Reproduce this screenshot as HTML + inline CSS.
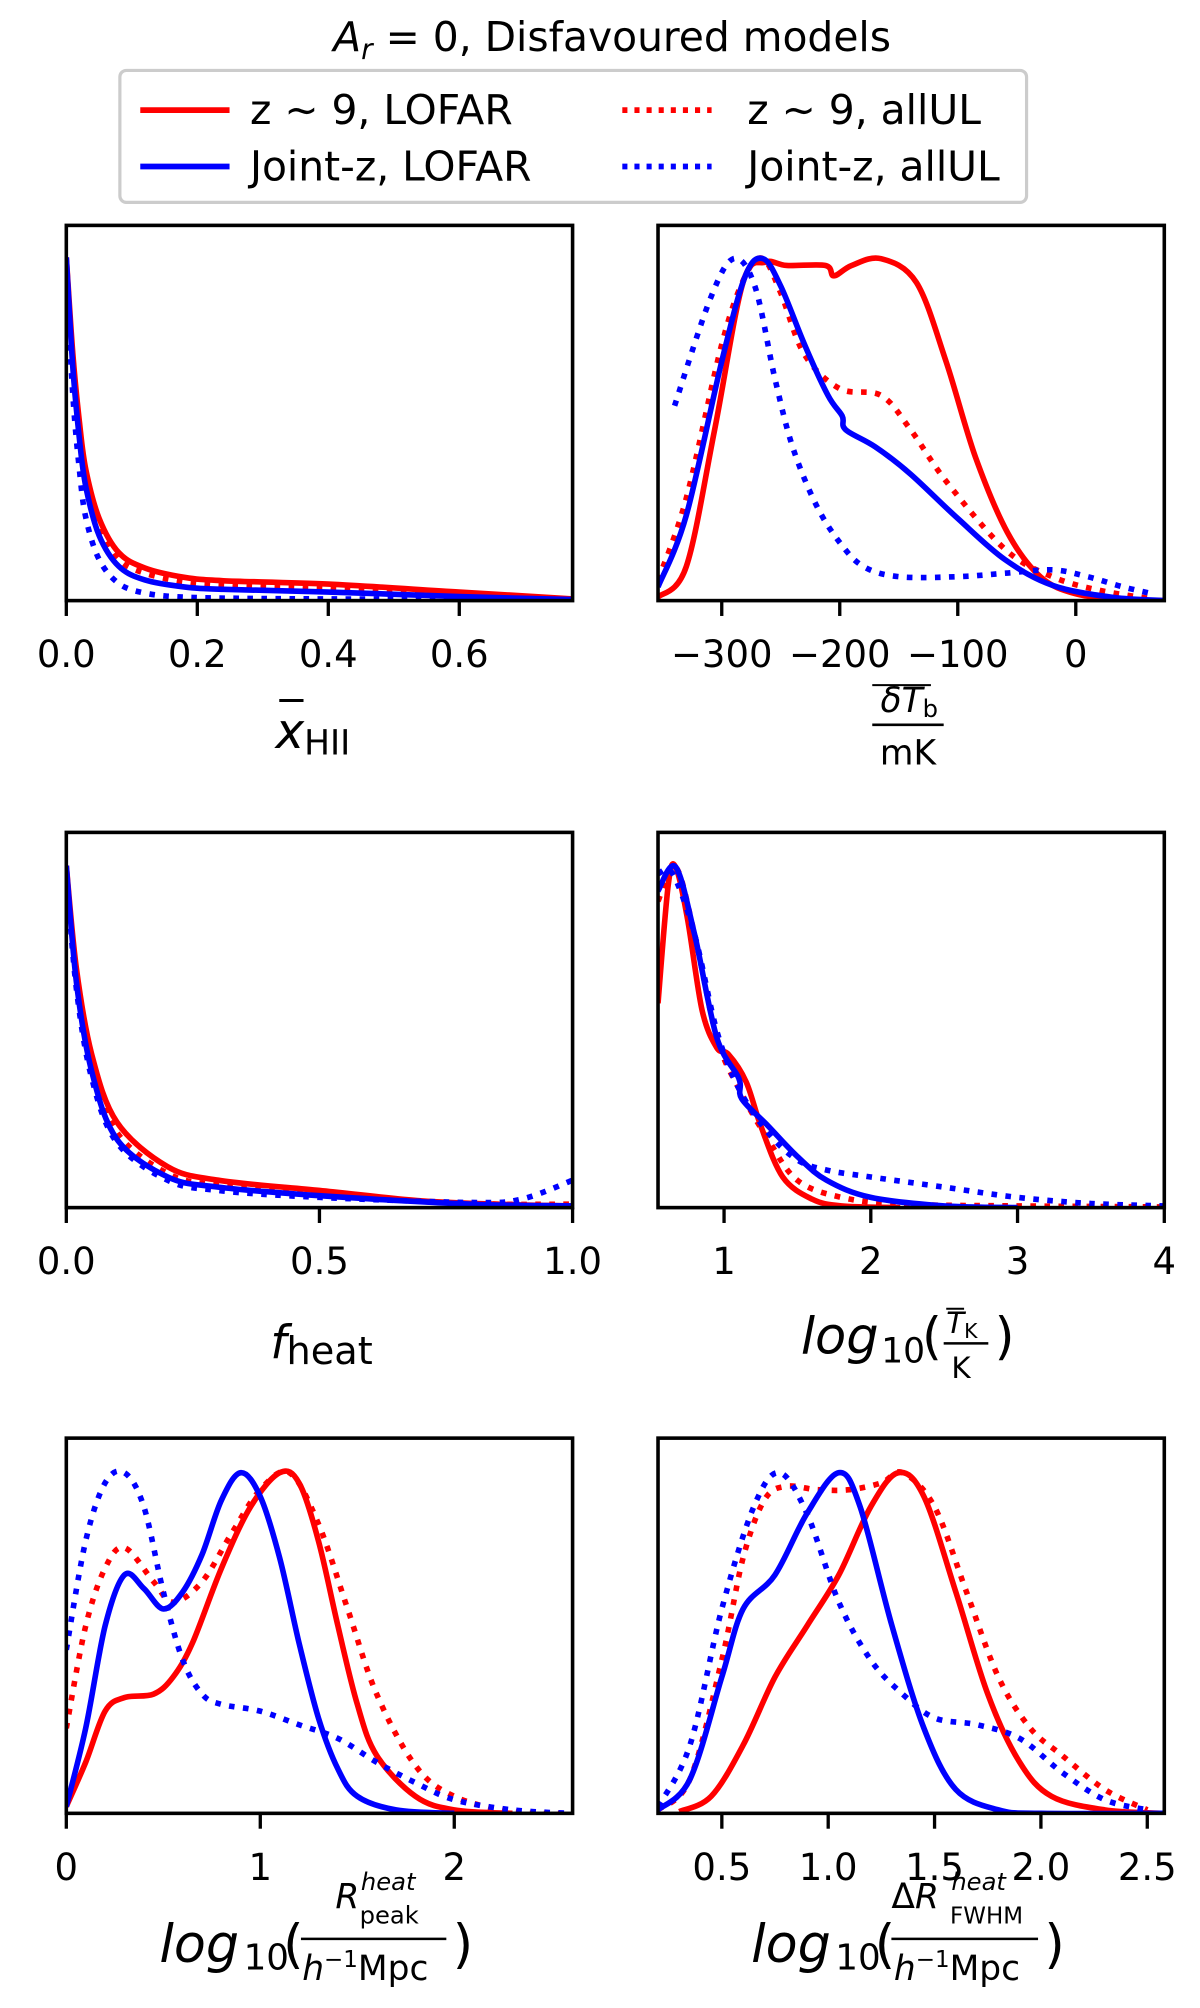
<!DOCTYPE html>
<html><head><meta charset="utf-8"><style>
html,body{margin:0;padding:0;background:#fff}
svg{display:block}
text{font-family:"DejaVu Sans","Liberation Sans",sans-serif;fill:#000}
</style></head><body>
<svg id="fig" width="1200" height="2008" viewBox="0 0 941 1568" preserveAspectRatio="none" xmlns="http://www.w3.org/2000/svg">
<text x="480" y="40" font-size="32" text-anchor="middle"><tspan font-style="italic">A</tspan><tspan font-style="italic" font-size="22" dy="6">r</tspan><tspan dy="-6"> = 0, Disfavoured models</tspan></text>
<g>
<rect x="94" y="55" width="711" height="103" rx="5" fill="#fff" stroke="#ccc" stroke-width="2.5"/>
<line x1="110" y1="86" x2="180" y2="86" stroke="#f00" stroke-width="4.5"/>
<text x="196" y="97" font-size="32">z ∼ 9, LOFAR</text>
<line x1="110" y1="130" x2="180" y2="130" stroke="#00f" stroke-width="4.5"/>
<text x="196" y="141" font-size="32">Joint-z, LOFAR</text>
<line x1="488" y1="86" x2="558" y2="86" stroke="#f00" stroke-width="4.5" stroke-dasharray="4,5.5"/>
<text x="586" y="97" font-size="32">z ∼ 9, allUL</text>
<line x1="488" y1="130" x2="558" y2="130" stroke="#00f" stroke-width="4.5" stroke-dasharray="4,5.5"/>
<text x="586" y="141" font-size="32">Joint-z, allUL</text>
</g>
<g id="panels"></g>
<text x="216" y="584" font-size="38"><tspan font-style="italic">x</tspan><tspan font-size="27" dy="5">HII</tspan></text>
<line x1="219" y1="547" x2="238" y2="547" stroke="#000" stroke-width="2.4"/>
<g>
<text x="713" y="556" font-size="27" text-anchor="middle"><tspan font-style="italic">δT</tspan><tspan font-size="19" dy="4">b</tspan></text>
<line x1="684" y1="535" x2="730" y2="535" stroke="#000" stroke-width="1.6"/>
<line x1="684" y1="566" x2="740" y2="566" stroke="#000" stroke-width="2"/>
<text x="712" y="597" font-size="27" text-anchor="middle">mK</text>
</g>
<text x="212" y="1061" font-size="36"><tspan font-style="italic">f</tspan><tspan font-size="30" dy="4">heat</tspan></text>
<g>
<text x="628" y="1057" font-size="40" font-style="italic">log</text>
<text x="691" y="1064" font-size="27">10</text>
<text x="723" y="1057" font-size="40">(</text>
<text x="742" y="1041" font-size="23" font-style="italic">T</text><text x="756" y="1045" font-size="16">K</text>
<line x1="742" y1="1022" x2="756" y2="1022" stroke="#000" stroke-width="1.6"/>
<line x1="740" y1="1049" x2="775" y2="1049" stroke="#000" stroke-width="2"/>
<text x="746" y="1076" font-size="23">K</text>
<text x="780" y="1057" font-size="40">)</text>
</g>
<g>
<text x="125" y="1532" font-size="41" font-style="italic">log</text>
<text x="191" y="1538" font-size="28">10</text>
<text x="222" y="1532" font-size="41">(</text>
<text x="263" y="1490" font-size="27" font-style="italic">R</text>
<text x="283" y="1476" font-size="19" font-style="italic">heat</text>
<text x="282" y="1502" font-size="19">peak</text>
<line x1="236" y1="1514" x2="350" y2="1514" stroke="#000" stroke-width="2"/>
<text x="237" y="1546" font-size="27"><tspan font-style="italic">h</tspan><tspan font-size="18" dy="-10">−1</tspan><tspan dy="10">Mpc</tspan></text>
<text x="355" y="1532" font-size="41">)</text>
</g>
<g>
<text x="589" y="1532" font-size="41" font-style="italic">log</text>
<text x="655" y="1538" font-size="28">10</text>
<text x="686" y="1532" font-size="41">(</text>
<text x="699" y="1490" font-size="27"><tspan>Δ</tspan><tspan font-style="italic">R</tspan></text>
<text x="746" y="1476" font-size="19" font-style="italic">heat</text>
<text x="745" y="1502" font-size="18">FWHM</text>
<line x1="699" y1="1514" x2="814" y2="1514" stroke="#000" stroke-width="2"/>
<text x="701" y="1546" font-size="27"><tspan font-style="italic">h</tspan><tspan font-size="18" dy="-10">−1</tspan><tspan dy="10">Mpc</tspan></text>
<text x="819" y="1532" font-size="41">)</text>
</g>
</svg>
<script>
// ---- data (x, density normalised to peak=1) ----
const p1_redSolid=[[0,1],[0.01,0.72],[0.02,0.52],[0.03,0.38],[0.05,0.24],[0.08,0.14],[0.12,0.095],[0.18,0.068],[0.24,0.058],[0.4,0.048],[0.6,0.025],[0.773,0.005]];
const p1_redDot=[[0,0.98],[0.01,0.7],[0.02,0.5],[0.03,0.36],[0.05,0.22],[0.08,0.12],[0.12,0.08],[0.18,0.055],[0.24,0.045],[0.4,0.035],[0.6,0.018],[0.773,0.004]];
const p1_blueSolid=[[0,1],[0.01,0.68],[0.02,0.47],[0.03,0.33],[0.05,0.19],[0.08,0.1],[0.12,0.06],[0.18,0.04],[0.24,0.033],[0.4,0.025],[0.6,0.012],[0.773,0.003]];
const p1_blueDot=[[0,0.95],[0.01,0.6],[0.02,0.38],[0.03,0.24],[0.05,0.12],[0.08,0.05],[0.12,0.022],[0.18,0.01],[0.3,0.006],[0.5,0.004],[0.773,0.002]];
const p2_redSolid=[[-354,0.01],[-330,0.1],[-306,0.5],[-282,0.93],[-263,0.99],[-245,0.98],[-212,0.98],[-205,0.95],[-190,0.98],[-165,1.0],[-135,0.93],[-110,0.7],[-85,0.42],[-58,0.2],[-30,0.07],[0,0.02],[40,0.003],[75,0]];
const p2_redDot=[[-354,0.06],[-330,0.3],[-300,0.75],[-280,0.95],[-265,1.0],[-250,0.9],[-230,0.72],[-200,0.62],[-165,0.6],[-140,0.5],[-110,0.35],[-60,0.15],[-20,0.07],[20,0.03],[65,0.005]];
const p2_blueSolid=[[-354,0.04],[-330,0.25],[-300,0.7],[-280,0.95],[-265,1.0],[-250,0.92],[-230,0.75],[-210,0.6],[-198,0.54],[-195,0.5],[-170,0.45],[-140,0.37],[-100,0.24],[-60,0.12],[-20,0.045],[30,0.01],[75,0]];
const p2_blueDot=[[-340,0.57],[-310,0.88],[-290,1.0],[-272,0.92],[-255,0.65],[-240,0.45],[-220,0.28],[-200,0.17],[-180,0.1],[-150,0.07],[-100,0.07],[-60,0.08],[-20,0.09],[10,0.07],[40,0.04],[65,0.02]];
const p3_redSolid=[[0,1],[0.02,0.7],[0.05,0.45],[0.1,0.25],[0.2,0.12],[0.3,0.08],[0.5,0.05],[0.7,0.02],[0.85,0.01],[1,0.005]];
const p3_redDot=[[0,0.98],[0.02,0.68],[0.05,0.42],[0.1,0.22],[0.2,0.1],[0.3,0.065],[0.5,0.04],[0.7,0.018],[0.85,0.01],[1,0.01]];
const p3_blueSolid=[[0,1],[0.02,0.66],[0.05,0.4],[0.1,0.2],[0.2,0.09],[0.3,0.06],[0.5,0.035],[0.8,0.01],[1,0.005]];
const p3_blueDot=[[0,0.98],[0.02,0.64],[0.05,0.38],[0.1,0.19],[0.2,0.08],[0.3,0.05],[0.5,0.03],[0.8,0.015],[0.9,0.025],[1,0.08]];
const p4_redSolid=[[0.55,0.6],[0.62,0.95],[0.67,1.0],[0.75,0.85],[0.85,0.58],[0.95,0.47],[1.03,0.45],[1.15,0.37],[1.25,0.24],[1.4,0.09],[1.6,0.025],[1.8,0.005],[2.2,0]];
const p4_redDot=[[0.55,0.9],[0.67,1.0],[0.8,0.8],[0.95,0.5],[1.1,0.35],[1.3,0.2],[1.5,0.08],[1.8,0.03],[2.2,0.01],[3,0.005],[4,0.002]];
const p4_blueSolid=[[0.55,0.93],[0.67,1.0],[0.8,0.8],[0.95,0.5],[1.1,0.38],[1.12,0.32],[1.3,0.24],[1.5,0.15],[1.7,0.08],[2,0.03],[2.5,0.005],[3,0]];
const p4_blueDot=[[0.55,0.98],[0.65,0.98],[0.8,0.8],[0.95,0.52],[1.1,0.35],[1.3,0.22],[1.5,0.14],[1.7,0.11],[2,0.09],[2.5,0.06],[3,0.03],[3.5,0.012],[4,0.005]];
const p5_redSolid=[[0,0.02],[0.1,0.15],[0.2,0.3],[0.3,0.34],[0.45,0.35],[0.55,0.4],[0.65,0.5],[0.8,0.72],[0.95,0.9],[1.1,1.0],[1.2,0.97],[1.3,0.8],[1.4,0.55],[1.5,0.32],[1.6,0.17],[1.8,0.05],[2.0,0.01],[2.3,0]];
const p5_redDot=[[0,0.25],[0.1,0.55],[0.2,0.72],[0.3,0.78],[0.45,0.68],[0.55,0.62],[0.7,0.68],[0.85,0.82],[1.0,0.95],[1.15,1.0],[1.3,0.85],[1.45,0.6],[1.6,0.35],[1.8,0.14],[2.0,0.05],[2.3,0.005],[2.6,0]];
const p5_blueSolid=[[0,0.02],[0.1,0.25],[0.2,0.55],[0.3,0.7],[0.4,0.66],[0.5,0.6],[0.6,0.65],[0.7,0.76],[0.8,0.92],[0.9,1.0],[1.0,0.93],[1.1,0.75],[1.2,0.5],[1.3,0.28],[1.4,0.13],[1.5,0.05],[1.7,0.01],[2,0]];
const p5_blueDot=[[0,0.48],[0.1,0.8],[0.2,0.97],[0.3,1.0],[0.4,0.9],[0.5,0.65],[0.6,0.45],[0.7,0.35],[0.8,0.32],[1.0,0.3],[1.2,0.26],[1.4,0.22],[1.6,0.15],[1.8,0.09],[2.0,0.04],[2.3,0.01],[2.6,0]];
const p6_redSolid=[[0.3,0.005],[0.45,0.05],[0.6,0.2],[0.75,0.4],[0.9,0.55],[1.05,0.7],[1.2,0.9],[1.33,1.0],[1.45,0.93],[1.6,0.65],[1.75,0.35],[1.9,0.15],[2.05,0.05],[2.3,0.01],[2.58,0]];
const p6_redDot=[[0.2,0.01],[0.35,0.1],[0.5,0.45],[0.6,0.75],[0.7,0.92],[0.8,0.96],[0.95,0.95],[1.1,0.95],[1.25,0.97],[1.35,1.0],[1.5,0.9],[1.65,0.65],[1.8,0.4],[1.95,0.25],[2.1,0.17],[2.3,0.07],[2.5,0.01]];
const p6_blueSolid=[[0.2,0.01],[0.35,0.1],[0.5,0.4],[0.6,0.6],[0.75,0.7],[0.9,0.88],[1.05,1.0],[1.15,0.9],[1.3,0.55],[1.45,0.25],[1.6,0.07],[1.8,0.01],[2.0,0],[2.58,0]];
const p6_blueDot=[[0.2,0.02],[0.35,0.2],[0.5,0.6],[0.65,0.9],[0.77,1.0],[0.9,0.88],[1.05,0.62],[1.2,0.45],[1.35,0.35],[1.5,0.28],[1.7,0.26],[1.9,0.22],[2.1,0.12],[2.3,0.04],[2.5,0.01]];
const p1_ticks=[0,0.2,0.4,0.6], p1_tickLabels=["0.0","0.2","0.4","0.6"];
const p2_ticks=[-300,-200,-100,0], p2_tickLabels=["−300","−200","−100","0"];
const p3_ticks=[0,0.5,1], p3_tickLabels=["0.0","0.5","1.0"];
const p4_ticks=[1,2,3,4], p4_tickLabels=["1","2","3","4"];
const p5_ticks=[0,1,2], p5_tickLabels=["0","1","2"];
const p6_ticks=[0.5,1,1.5,2,2.5], p6_tickLabels=["0.5","1.0","1.5","2.0","2.5"];

const NS="http://www.w3.org/2000/svg";
const root=document.getElementById('panels');
function mk(tag,attrs,parent){const e=document.createElementNS(NS,tag);for(const k in attrs)e.setAttribute(k,attrs[k]);parent.appendChild(e);return e;}
function smooth(pts){let d="M"+pts[0][0].toFixed(1)+","+pts[0][1].toFixed(1);
 for(let i=0;i<pts.length-1;i++){const p0=pts[Math.max(0,i-1)],p1=pts[i],p2=pts[i+1],p3=pts[Math.min(pts.length-1,i+2)];
  const c1=[p1[0]+(p2[0]-p0[0])/6,p1[1]+(p2[1]-p0[1])/6],c2=[p2[0]-(p3[0]-p1[0])/6,p2[1]-(p3[1]-p1[1])/6];
  d+="C"+c1[0].toFixed(1)+","+c1[1].toFixed(1)+" "+c2[0].toFixed(1)+","+c2[1].toFixed(1)+" "+p2[0].toFixed(1)+","+p2[1].toFixed(1);}
 return d;}
function panel(name,L,T,xmin,xmax,ticks,labels,series,top){
 const R=L+397;
 const B=T+293;
 const x=v=>L+(v-xmin)/(xmax-xmin)*(R-L);
 const y=v=>B-v*(B-top);
 const g=mk('g',{},root);
 
 
 const cp='clip-'+name;
 const c=mk('clipPath',{id:cp},g);mk('rect',{x:L,y:T,width:R-L,height:B-T},c);
 series.forEach(s=>{
  const p=mk('path',{d:smooth(s.data.map(d=>[x(d[0]),y(d[1])])),fill:'none',stroke:s.color,'stroke-width':4.4,'clip-path':'url(#'+cp+')','stroke-linejoin':'round'},g);
  if(s.dot)p.setAttribute('stroke-dasharray','4.4,6.6');
  
  
 });
 const fr=mk('rect',{x:L,y:T,width:R-L,height:B-T,fill:'none',stroke:'#000','stroke-width':2.8},g);
 
 
 ticks.forEach((t,i)=>{
  mk('line',{x1:x(t),x2:x(t),y1:B,y2:B+12,stroke:'#000','stroke-width':2.6},g);
  const tx=mk('text',{x:x(t),y:B+52,'font-size':29,'text-anchor':'middle'},g);tx.textContent=labels[i];
  
  
 });
}
function S(a,b,c,d){return [{name:'z9-lofar',color:'#f00',dot:false,data:a},{name:'z9-allul',color:'#f00',dot:true,data:b},{name:'jointz-lofar',color:'#00f',dot:false,data:c},{name:'jointz-allul',color:'#00f',dot:true,data:d}];}
panel('p1-xhii',52,176,0,0.773,p1_ticks,p1_tickLabels,S(p1_redSolid,p1_redDot,p1_blueSolid,p1_blueDot),201);
panel('p2-dtb',516,176,-354,75,p2_ticks,p2_tickLabels,S(p2_redSolid,p2_redDot,p2_blueSolid,p2_blueDot),202);
panel('p3-fheat',52,650,0,1,p3_ticks,p3_tickLabels,S(p3_redSolid,p3_redDot,p3_blueSolid,p3_blueDot),676);
panel('p4-tk',516,650,0.55,4,p4_ticks,p4_tickLabels,S(p4_redSolid,p4_redDot,p4_blueSolid,p4_blueDot),677);
panel('p5-rpeak',52,1123,0,2.61,p5_ticks,p5_tickLabels,S(p5_redSolid,p5_redDot,p5_blueSolid,p5_blueDot),1150);
panel('p6-rfwhm',516,1123,0.2,2.58,p6_ticks,p6_tickLabels,S(p6_redSolid,p6_redDot,p6_blueSolid,p6_blueDot),1150);
</script>
</body></html>
